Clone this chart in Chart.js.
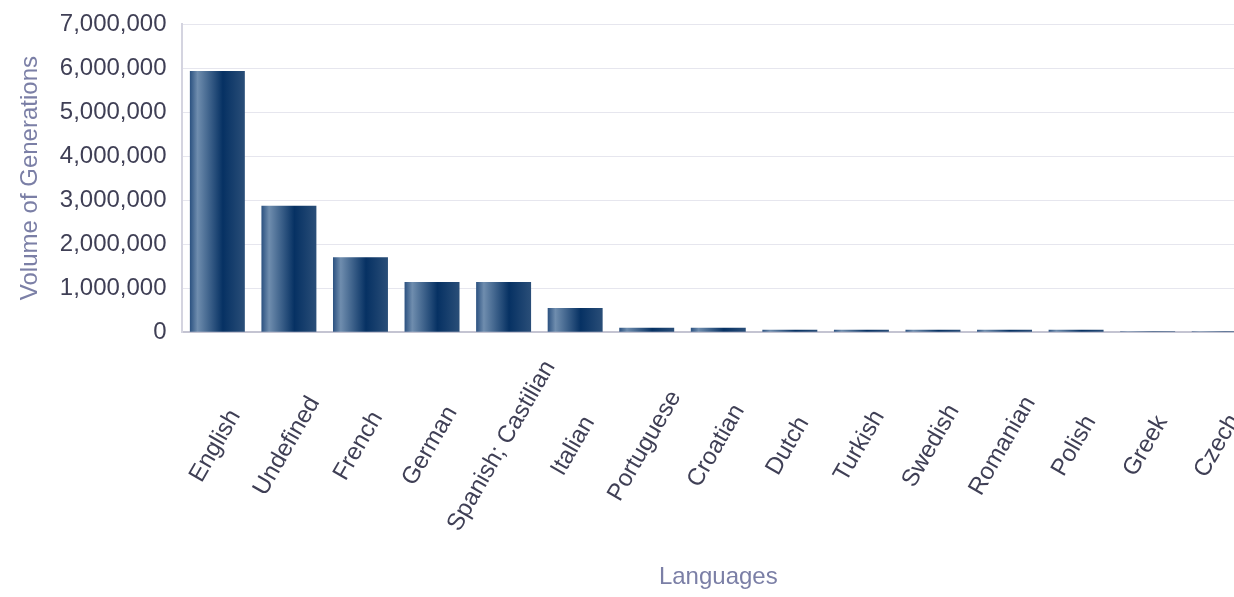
<!DOCTYPE html>
<html>
<head>
<meta charset="utf-8">
<script src="https://cdn.jsdelivr.net/npm/chart.js@4/dist/chart.umd.min.js"></script>
<style>
  html, body { margin: 0; padding: 0; overflow: hidden; background: #fff; }
  #wrap { position: relative; width: 1290px; height: 597px; }
</style>
</head>
<body>
<div id="wrap"><canvas id="chart"></canvas></div>
<script>
/* ================= DATA ================= */
const languages = [
  "English", "Undefined", "French", "German", "Spanish; Castilian", "Italian",
  "Portuguese", "Croatian", "Dutch", "Turkish", "Swedish", "Romanian",
  "Polish", "Greek", "Czech"
];
const generations = [
  5930000, 2870000, 1700000, 1140000, 1140000, 550000,
  100000, 100000, 55000, 55000, 55000, 55000,
  55000, 20000, 20000
];
const yTicks = [0, 1000000, 2000000, 3000000, 4000000, 5000000, 6000000, 7000000];

/* ================= STYLE ================= */
const FONT = "Arial, 'Liberation Sans', sans-serif";
const TICK_COLOR = "#3f3f55";
const TITLE_COLOR = "#7b7fa6";
const BAR_PCT = 0.768;

const barGradient = (c) => {
  const chart = c.chart;
  const xs = chart.scales && chart.scales.x;
  if (!xs || c.dataIndex === undefined) return "#0a3462";
  const cx = xs.getPixelForValue(c.dataIndex);
  const w = xs.width / languages.length * BAR_PCT;
  if (!isFinite(cx) || !isFinite(w) || w <= 0) return "#0a3462";
  const g = chart.ctx.createLinearGradient(cx - w / 2, 0, cx + w / 2, 0);
  g.addColorStop(0, "#2b5180");
  g.addColorStop(0.14, "#6f8dae");
  g.addColorStop(0.6, "#063163");
  g.addColorStop(1, "#2a4e78");
  return g;
};

/* ================= ROTATED X LABELS ================= */
const xLabels = {
  id: "xLabels",
  afterDraw(chart) {
    const xs = chart.scales.x;
    const ctx = chart.ctx;
    ctx.save();
    ctx.font = `24px ${FONT}`;
    ctx.fillStyle = TICK_COLOR;
    ctx.textAlign = "center";
    ctx.textBaseline = "middle";
    languages.forEach((label, i) => {
      ctx.save();
      ctx.translate(xs.getPixelForTick(i) - 2, 446);
      ctx.rotate(-Math.PI / 3);
      ctx.fillText(label, 0, 0);
      ctx.restore();
    });
    ctx.restore();
  }
};

/* ================= CHART ================= */
new Chart(document.getElementById("chart"), {
  type: "bar",
  data: {
    labels: languages,
    datasets: [{
      label: "Volume of Generations",
      data: generations,
      backgroundColor: barGradient,
      borderWidth: 0,
      barPercentage: BAR_PCT,
      categoryPercentage: 1
    }]
  },
  options: {
    responsive: true,
    maintainAspectRatio: false,
    animation: false,
    layout: { padding: { top: 24, right: 35, bottom: 0, left: 0 } },
    plugins: {
      legend: { display: false },
      tooltip: { enabled: false }
    },
    scales: {
      x: {
        grid: { display: false },
        border: { color: "#c4c4d2", width: 2 },
        ticks: { display: false },
        title: {
          display: true,
          text: "Languages",
          color: TITLE_COLOR,
          font: { family: FONT, size: 24 },
          padding: { top: 223, bottom: 5 }
        }
      },
      y: {
        min: 0,
        max: 7000000,
        afterBuildTicks: (axis) => { axis.ticks = yTicks.map(v => ({ value: v })); },
        afterFit: (axis) => { axis.paddingTop = 0; axis.paddingBottom = 0; },
        grid: { color: "#e6e6ee", drawTicks: false },
        border: { color: "#d4d4e0", width: 2 },
        ticks: {
          color: TICK_COLOR,
          padding: 15,
          font: { family: FONT, size: 24 },
          callback: (v) => v.toLocaleString("en-US")
        },
        title: {
          display: true,
          text: "Volume of Generations",
          color: TITLE_COLOR,
          font: { family: FONT, size: 24 },
          padding: { top: 16, bottom: 0 }
        }
      }
    }
  },
  plugins: [xLabels]
});
</script>
</body>
</html>
